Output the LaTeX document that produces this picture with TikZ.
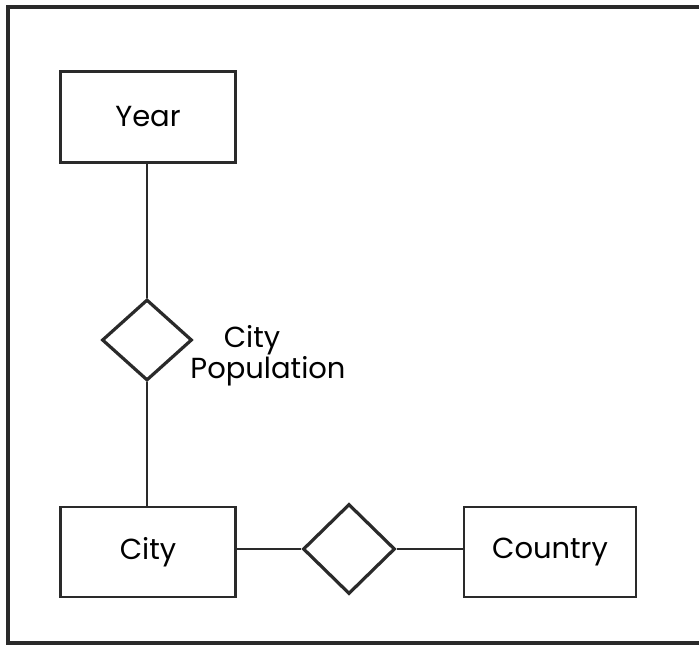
\documentclass[tikz,border=0pt]{standalone}
\usepackage{fontspec}
\setmainfont{Poppins}
\usetikzlibrary{shapes.geometric}
\definecolor{ink}{HTML}{2A2A2A}
\begin{document}
\begin{tikzpicture}[x=1pt,y=-1pt,
  entity/.style={draw=ink, line width=2.8pt, rectangle, inner sep=0pt, font=\fontsize{29}{30}\selectfont},
  rel/.style={draw=ink, line width=3.2pt, diamond, inner sep=0pt},
  link/.style={draw=ink, line width=2.2pt},
  lbl/.style={font=\fontsize{29}{25}\selectfont, align=center, inner sep=0pt}]
\useasboundingbox (0,0) rectangle (699,647);
\fill[white] (0,0) rectangle (699,647);
\draw[ink, line width=4.5pt] (8,7) rectangle (720,643);
\node[entity, minimum width=175, minimum height=91] (year) at (148,117) {Year};
\node[entity, minimum width=175, minimum height=90] (city) at (148,552) {City};
\node[entity, minimum width=172, minimum height=90] (country) at (550,552) {Country};
\node[rel, minimum width=90, minimum height=81] (pop) at (147,340) {};
\node[rel, minimum width=92, minimum height=90] (cc) at (349,549) {};
\node[lbl] (poplbl) at (268,356) {City\hspace*{32pt}\\Population};
\draw[link] (year.south -| pop.north) -- (pop.north);
\draw[link] (pop.south) -- (pop.south |- city.north);
\draw[link] (city.east |- cc.west) -- (cc.west);
\draw[link] (cc.east) -- (country.west |- cc.east);
\end{tikzpicture}
\end{document}
